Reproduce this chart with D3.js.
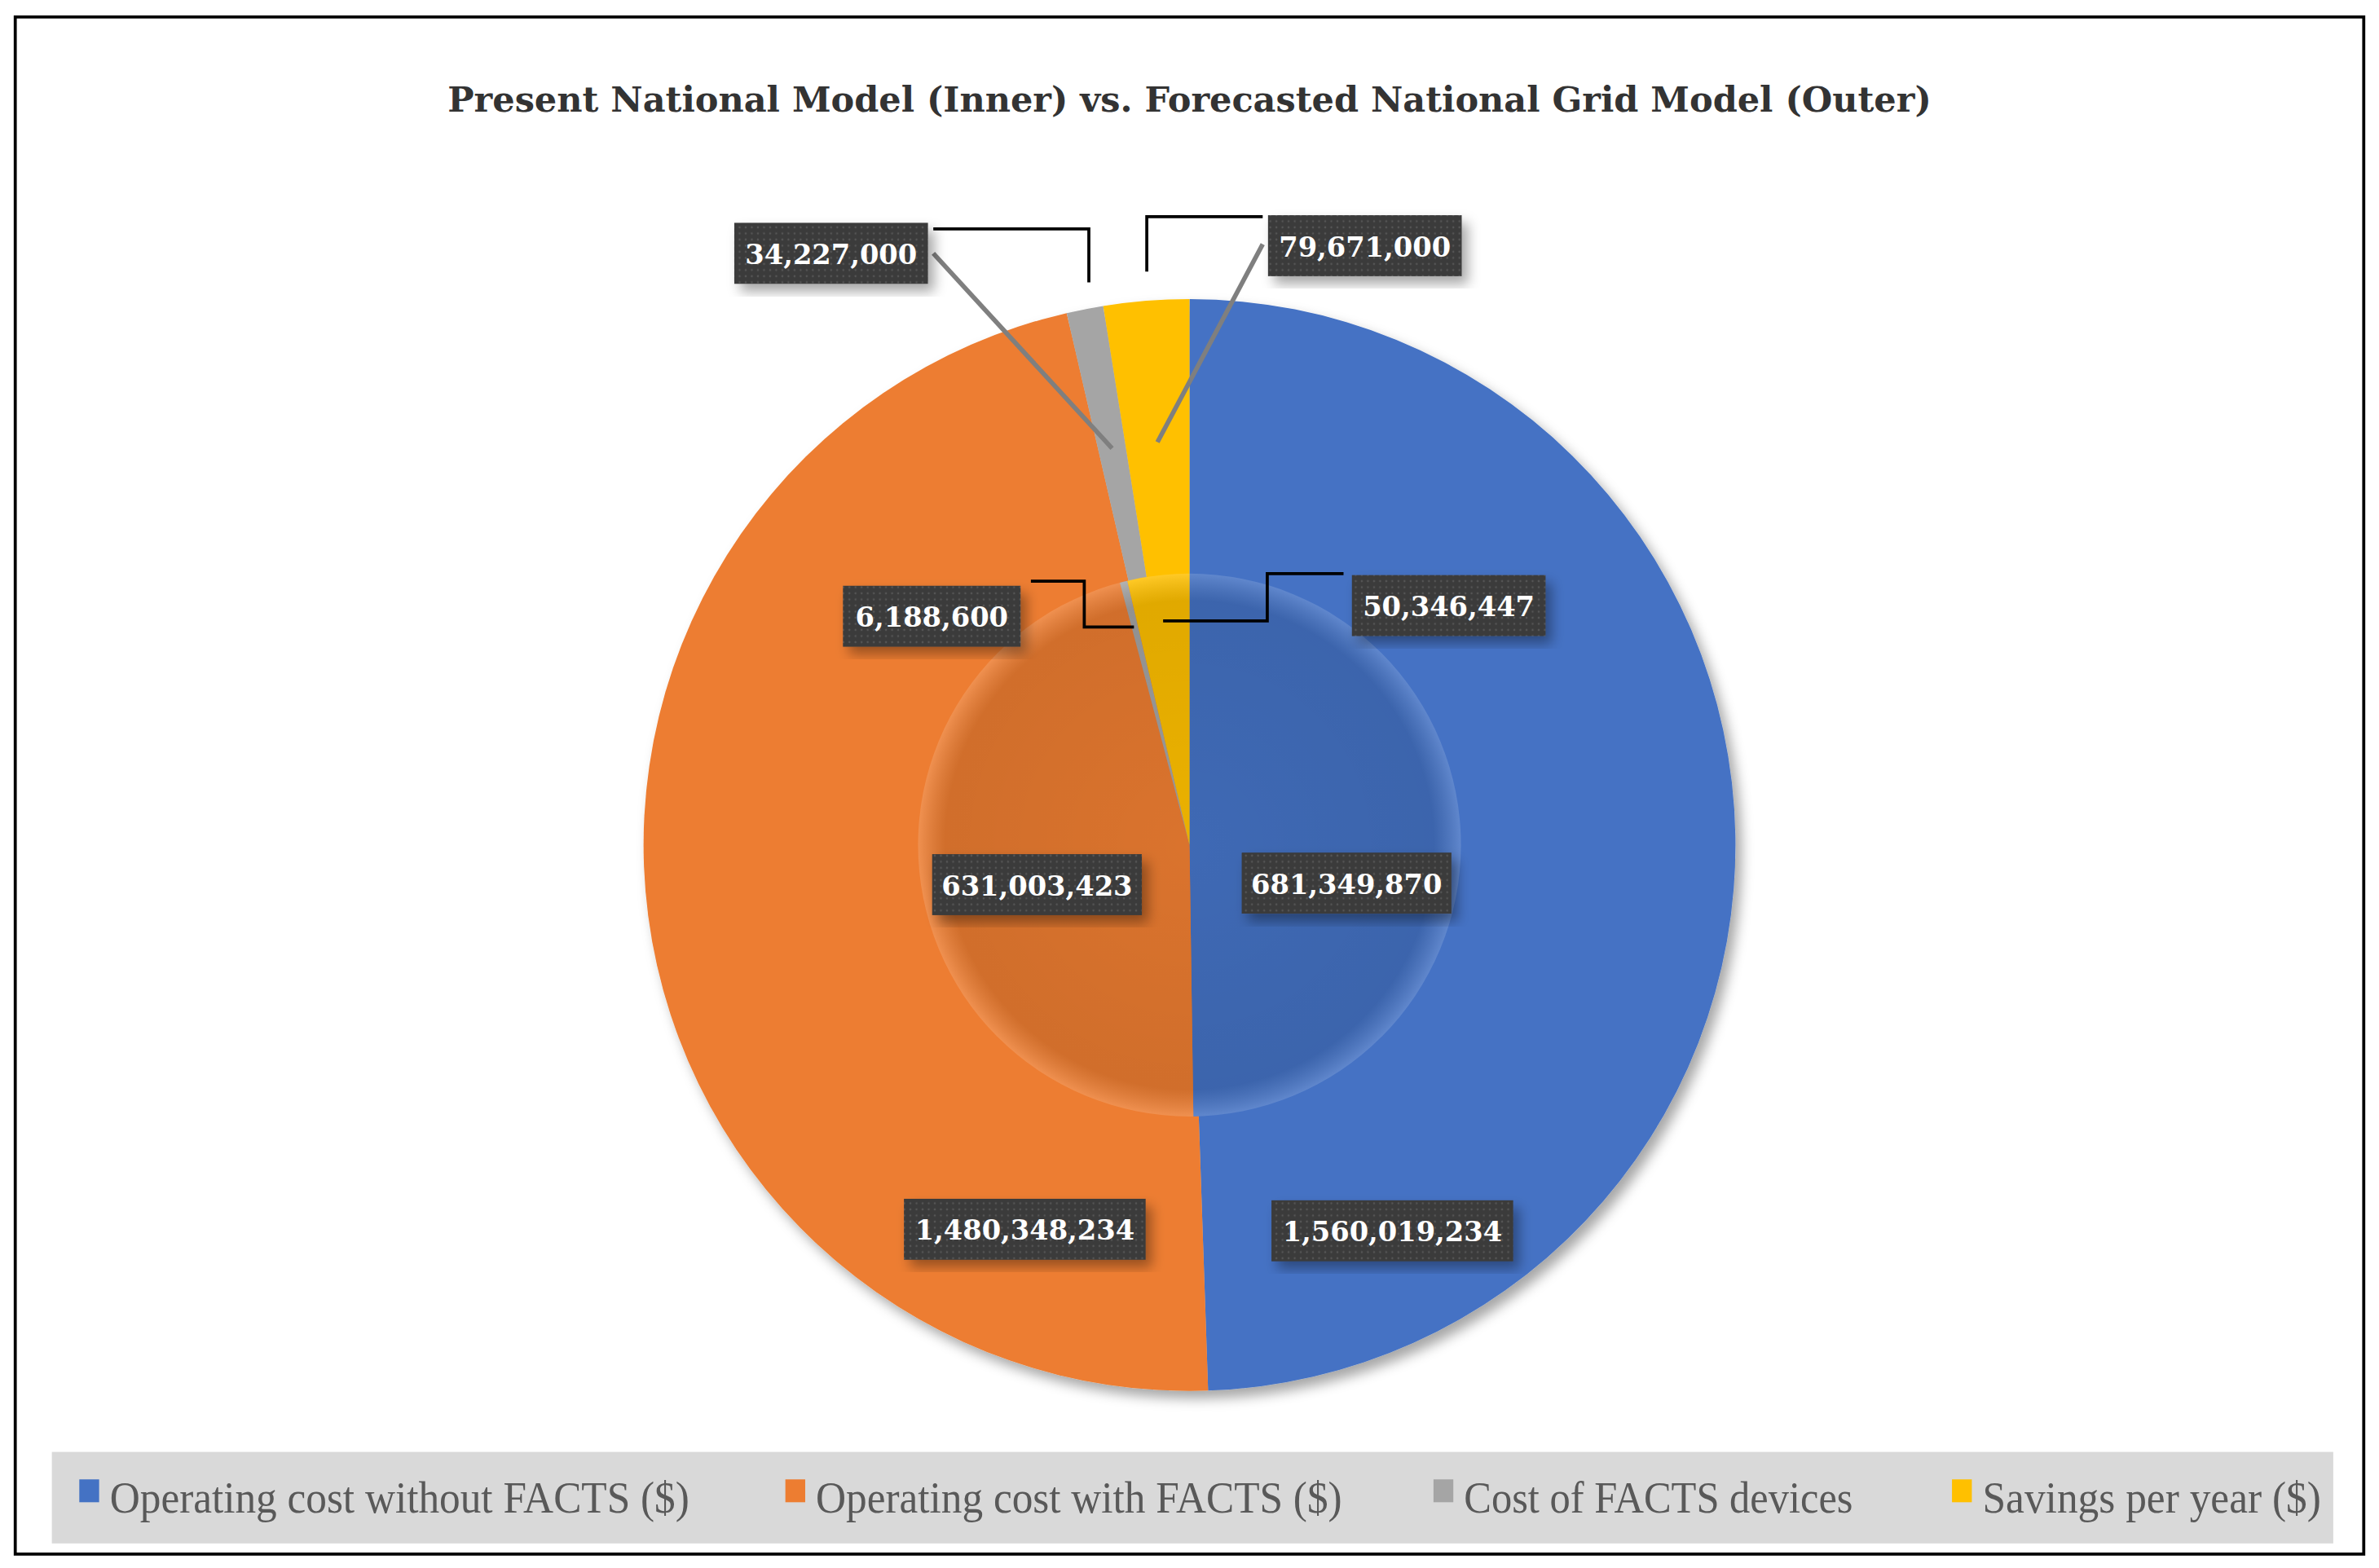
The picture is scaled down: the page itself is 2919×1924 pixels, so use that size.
<!DOCTYPE html>
<html><head><meta charset="utf-8">
<script src="https://cdn.jsdelivr.net/npm/d3@7"></script>
<style>html,body{margin:0;padding:0;background:#fff}</style>
</head><body>
<svg id="c" width="2919" height="1924" viewBox="0 0 1560 1028"></svg>
<script>
const categories = ["Operating cost without FACTS ($)","Operating cost with FACTS ($)","Cost of FACTS devices","Savings per year ($)"];
const outerValues = [1560019234, 1480348234, 34227000, 79671000];
const innerValues = [681349870, 631003423, 6188600, 50346447];
const colors = ["#4472C4","#ED7D31","#A5A5A5","#FFC000"];
const title = "Present National Model (Inner) vs. Forecasted National Grid Model (Outer)";

const svg = d3.select("#c");
const defs = svg.append("defs");
const sh = defs.append("filter").attr("id","sh").attr("x","-20%").attr("y","-20%").attr("width","140%").attr("height","140%");
sh.append("feDropShadow").attr("dx",4).attr("dy",5).attr("stdDeviation",4).attr("flood-color","#000").attr("flood-opacity",0.35);
const pat = defs.append("pattern").attr("id","dots").attr("width",4).attr("height",4).attr("patternUnits","userSpaceOnUse");
pat.append("rect").attr("width",4).attr("height",4).attr("fill","#3a3a3a");
pat.append("circle").attr("cx",1).attr("cy",1).attr("r",0.7).attr("fill","#555");
const rg = defs.append("radialGradient").attr("id","bev");
rg.append("stop").attr("offset","0%").attr("stop-color","#000").attr("stop-opacity",0.08);
rg.append("stop").attr("offset","90%").attr("stop-color","#000").attr("stop-opacity",0.12);
rg.append("stop").attr("offset","100%").attr("stop-color","#fff").attr("stop-opacity",0.15);

svg.append("rect").attr("x",10).attr("y",11).attr("width",1540).attr("height",1008).attr("fill","#fff").attr("stroke","#000").attr("stroke-width",2);
svg.append("text").attr("x",780).attr("y",73).attr("text-anchor","middle")
  .attr("font-family","'DejaVu Serif', serif").attr("font-weight","bold").attr("font-size",23).attr("fill","#333").text(title);

const cx=780, cy=554, R=358, r=178;
const pie = d3.pie().sort(null).value(d=>d);
const g = svg.append("g").attr("transform",`translate(${cx},${cy})`);
const outerArcs = pie(outerValues), innerArcs = pie(innerValues);
g.append("g").attr("filter","url(#sh)").selectAll("path").data(outerArcs).join("path")
  .attr("d", d3.arc().innerRadius(0).outerRadius(R)).attr("fill",(d,i)=>colors[i]);
g.append("g").selectAll("path").data(innerArcs).join("path")
  .attr("d", d3.arc().innerRadius(0).outerRadius(r)).attr("fill",(d,i)=>colors[i]);
g.append("circle").attr("r",r).attr("fill","url(#bev)");

const fmt = d3.format(",");
function pt(a, rad){ const ang=(a.startAngle+a.endAngle)/2; return [cx+rad*Math.sin(ang), cy-rad*Math.cos(ang)]; }
// leader lines
const ly = svg.append("g").attr("fill","none");
const pg = pt(outerArcs[2],265), py = pt(outerArcs[3],265);
ly.append("path").attr("d",`M612,150H714V185`).attr("stroke","#000").attr("stroke-width",2);
ly.append("path").attr("d",`M612,166L${pg[0]},${pg[1]}`).attr("stroke","#7f7f7f").attr("stroke-width",3);
ly.append("path").attr("d",`M752,178V142H828`).attr("stroke","#000").attr("stroke-width",2);
ly.append("path").attr("d",`M828,160L${py[0]},${py[1]}`).attr("stroke","#7f7f7f").attr("stroke-width",3);
const ig = pt(innerArcs[2],150), iy = pt(innerArcs[3],150);
ly.append("path").attr("d",`M676,381H711V411H${ig[0]}`).attr("stroke","#000").attr("stroke-width",2);
ly.append("path").attr("d",`M${iy[0]},407H831V376H881`).attr("stroke","#000").attr("stroke-width",2);

const labels = [
 {v:outerValues[2], x:545, y:166},
 {v:outerValues[3], x:895, y:161},
 {v:innerValues[2], x:611, y:404},
 {v:innerValues[3], x:950, y:397},
 {v:innerValues[1], x:680, y:580},
 {v:innerValues[0], x:883, y:579},
 {v:outerValues[1], x:672, y:806},
 {v:outerValues[0], x:913, y:807}
];
const lg = svg.append("g");
labels.forEach(l=>{
  const t = fmt(l.v);
  const w = t.length*10.5+22, h=40;
  lg.append("rect").attr("x",l.x-w/2).attr("y",l.y-h/2).attr("width",w).attr("height",h)
    .attr("fill","url(#dots)").attr("filter","url(#sh)");
  lg.append("text").attr("x",l.x).attr("y",l.y+7).attr("text-anchor","middle")
    .attr("font-family","'DejaVu Serif', serif").attr("font-weight","bold").attr("font-size",18).attr("fill","#fff").text(t);
});

// legend
svg.append("rect").attr("x",34).attr("y",952).attr("width",1496).attr("height",60).attr("fill","#d9d9d9");
const legX=[52,515,940,1280];
categories.forEach((c,i)=>{
  svg.append("rect").attr("x",legX[i]).attr("y",970).attr("width",13).attr("height",15).attr("fill",colors[i]);
  svg.append("text").attr("x",legX[i]+20).attr("y",992).attr("font-family","'Liberation Serif', serif")
    .attr("font-size",29).attr("fill","#595959").attr("textLength",[380,345,255,222][i]).attr("lengthAdjust","spacingAndGlyphs").text(c);
});
</script>
</body></html>
